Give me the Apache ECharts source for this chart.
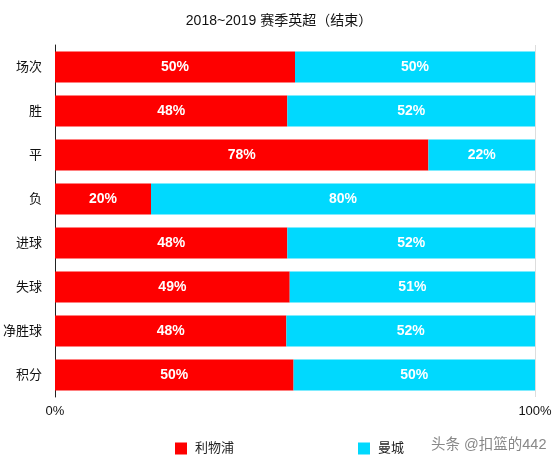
<!DOCTYPE html>
<html>
<head>
<meta charset="utf-8">
<script src="https://cdn.jsdelivr.net/npm/echarts@6/dist/echarts.min.js"></script>
<style>
html,body{margin:0;padding:0;background:#fff;}
#c{width:558px;height:464px;}
</style>
</head>
<body>
<div id="c"></div>
<script>
var categories = ['场次', '胜', '平', '负', '进球', '失球', '净胜球', '积分'];
var liverpool = [50, 48.4, 77.8, 20, 48.4, 48.9, 48.2, 49.7];
var mancity = [50, 51.6, 22.2, 80, 51.6, 51.1, 51.8, 50.3];
var seriesNames = ['利物浦', '曼城'];
var xTicks = ['0%', '100%'];

var FONT = 'Helvetica, Arial, "Liberation Sans", "Noto Sans CJK SC", sans-serif';
var chart = echarts.init(document.getElementById('c'));
var labelCfg = {
  show: true,
  position: 'inside',
  color: '#fff',
  fontSize: 14,
  fontWeight: 'bold',
  fontFamily: FONT,
  formatter: function (p) { return Math.round(p.value) + '%'; }
};
chart.setOption({
  animation: false,
  title: {
    text: '2018~2019 赛季英超（结束）',
    left: 'center',
    top: 9,
    textStyle: { fontSize: 14, fontWeight: 'normal', color: '#111', fontFamily: FONT }
  },
  legend: {
    data: seriesNames,
    left: 175,
    top: 442,
    padding: 0,
    itemGap: 124,
    itemWidth: 12,
    itemHeight: 12,
    icon: 'rect',
    textStyle: { fontSize: 13, color: '#222', fontFamily: FONT, padding: [0, 0, 0, 3] }
  },
  grid: { left: 55, right: 23, top: 45, bottom: 67 },
  xAxis: {
    type: 'value',
    min: 0,
    max: 100,
    interval: 100,
    axisLine: { show: false },
    axisTick: { show: false },
    splitLine: { show: true, lineStyle: { color: '#ddd', width: 1 } },
    axisLabel: {
      color: '#111',
      fontSize: 13,
      fontFamily: FONT,
      margin: 8,
      formatter: function (v) { return v === 0 ? xTicks[0] : (v === 100 ? xTicks[1] : ''); }
    }
  },
  yAxis: {
    type: 'category',
    data: categories,
    inverse: true,
    axisLine: { show: true, lineStyle: { color: '#222', width: 1 } },
    axisTick: { show: false },
    axisLabel: { color: '#111', fontSize: 13, fontFamily: FONT, margin: 13 }
  },
  series: [
    {
      name: seriesNames[0],
      type: 'bar',
      stack: 'total',
      data: liverpool,
      barCategoryGap: '29%',
      itemStyle: { color: '#FE0000' },
      label: labelCfg
    },
    {
      name: seriesNames[1],
      type: 'bar',
      stack: 'total',
      data: mancity,
      barCategoryGap: '29%',
      itemStyle: { color: '#00D9FE' },
      label: labelCfg
    }
  ],
  graphic: [
    {
      type: 'text',
      left: 431,
      top: 438,
      style: {
        text: '头条 @扣篮的442',
        fill: '#888',
        fontSize: 14.5,
        fontFamily: FONT
      }
    }
  ]
});
</script>
</body>
</html>
